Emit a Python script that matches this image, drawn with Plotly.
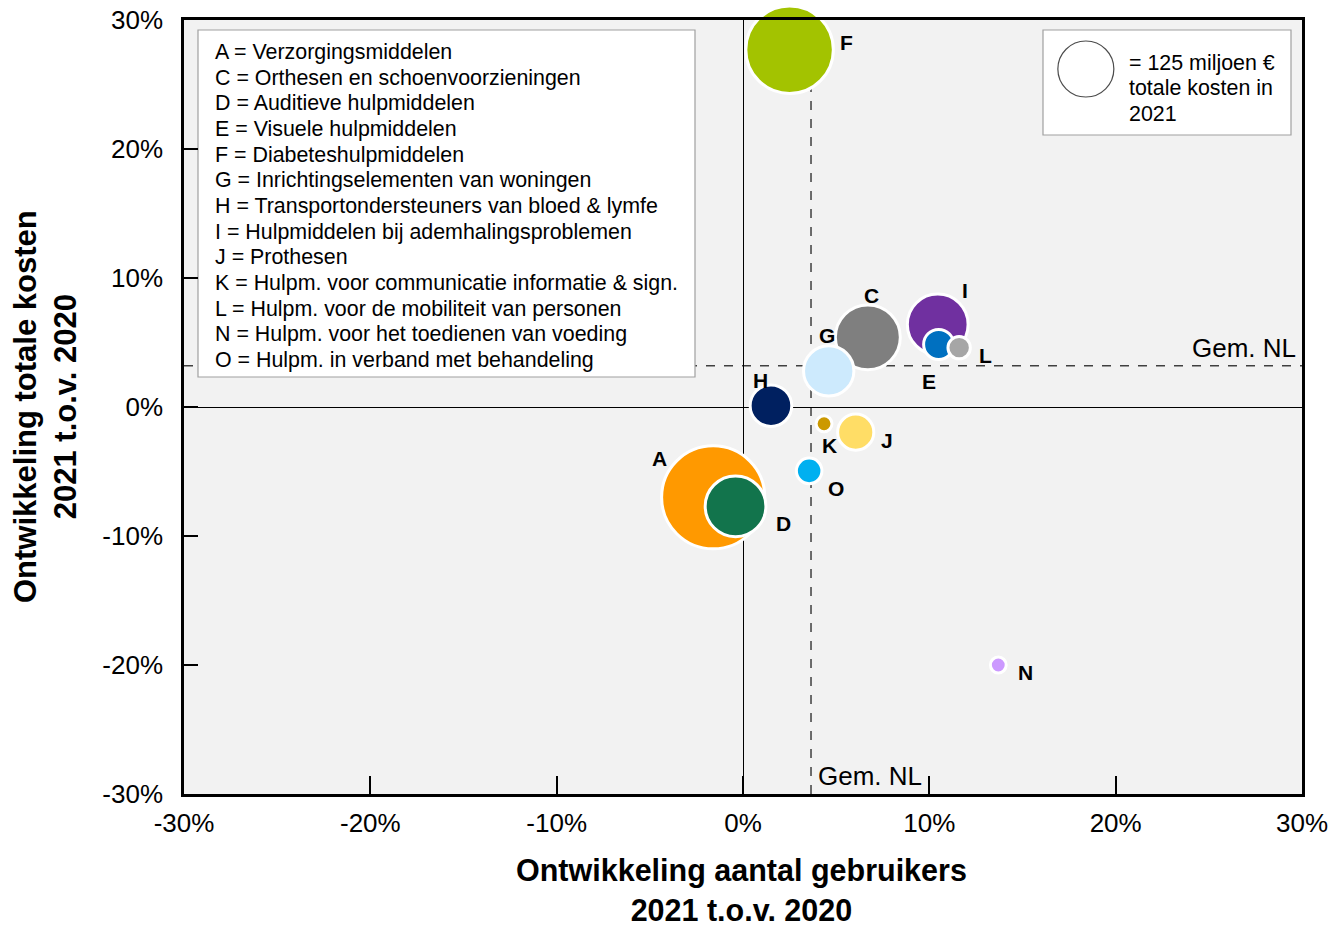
import numpy as np
import plotly.graph_objects as go

# ---- data ----
letters = ["A", "C", "D", "E", "F", "G", "H", "I", "J", "K", "L", "N", "O"]
names = [
    "Verzorgingsmiddelen",
    "Orthesen en schoenvoorzieningen",
    "Auditieve hulpmiddelen",
    "Visuele hulpmiddelen",
    "Diabeteshulpmiddelen",
    "Inrichtingselementen van woningen",
    "Transportondersteuners van bloed & lymfe",
    "Hulpmiddelen bij ademhalingsproblemen",
    "Prothesen",
    "Hulpm. voor communicatie informatie & sign.",
    "Hulpm. voor de mobiliteit van personen",
    "Hulpm. voor het toedienen van voeding",
    "Hulpm. in verband met behandeling",
]
users_change = [-1.6, 6.7, -0.4, 10.5, 2.5, 4.6, 1.5, 10.45, 6.05, 4.35, 11.6, 13.7, 3.55]   # % x
cost_change = [-7.0, 5.4, -7.7, 4.85, 27.7, 2.8, 0.1, 6.4, -1.95, -1.3, 4.6, -20.0, -4.95]   # % y
total_cost = [424, 168, 147, 36, 305, 101, 69, 147, 52, 10, 20, 10, 26]                       # mln EUR
colors = ["#ff9900", "#7f7f7f", "#12744c", "#0070c0", "#a3c300", "#cdeafd", "#002060",
          "#7030a0", "#ffdd66", "#cc9900", "#a6a6a6", "#cc99ff", "#00b0f0"]
# label offsets in px (dx right, dy up)
label_dx = [-54, 4, 48, -10, 57, -2, -10, 27, 31, 5, 26, 27, 27]
label_dy = [39, 42, -17, -37, 7, 35, 25, 34, -8, -22, -8, -7, -18]

mean_users = 3.65
mean_cost = 3.2
ref_cost = 125
ref_pos = (18.4, 26.2)

x_ticks = [-30, -20, -10, 0, 10, 20, 30]
y_ticks = [-30, -20, -10, 0, 10, 20, 30]

FONT = "Liberation Sans, Arial, sans-serif"
sizeref = 2 * 125 / 56.0 ** 2

order = np.argsort(-np.array(total_cost), kind="stable")
xs = np.array(users_change)[order]
ys = np.array(cost_change)[order]
cs = np.array(total_cost)[order]
cols = np.array(colors)[order]

fig = go.Figure()
fig.add_trace(go.Scatter(
    x=xs, y=ys, mode="markers", cliponaxis=False,
    marker=dict(size=cs, sizemode="area", sizeref=sizeref, color=list(cols),
                line=dict(color="white", width=3), opacity=1),
    hoverinfo="skip", showlegend=False))

# size reference circle
fig.add_trace(go.Scatter(
    x=[ref_pos[0]], y=[ref_pos[1]], mode="markers",
    marker=dict(size=[ref_cost], sizemode="area", sizeref=sizeref, color="white",
                line=dict(color="black", width=1.2)),
    hoverinfo="skip", showlegend=False))

L, R, T, B = 184, 1302, 20, 794
W, H = 1341, 927
pw, ph = R - L, B - T


def px(xp):
    return (xp - L) / pw


def py(yp):
    return 1 - (yp - T) / ph


shapes = [
    dict(type="line", xref="x", yref="paper", x0=mean_users, x1=mean_users, y0=0, y1=1,
         line=dict(color="#404040", width=1.5, dash="dash"), layer="below"),
    dict(type="line", xref="paper", yref="y", x0=0, x1=1, y0=mean_cost, y1=mean_cost,
         line=dict(color="#404040", width=1.5, dash="dash"), layer="below"),
    dict(type="rect", xref="paper", yref="paper", x0=px(198), x1=px(695), y0=py(30), y1=py(377),
         fillcolor="white", line=dict(color="#a0a0a0", width=1.2), layer="below"),
    dict(type="rect", xref="paper", yref="paper", x0=px(1043), x1=px(1291), y0=py(30), y1=py(135),
         fillcolor="white", line=dict(color="#a0a0a0", width=1.2), layer="below"),
]

annotations = []
for i, lt in enumerate(letters):
    annotations.append(dict(
        x=users_change[i], y=cost_change[i], xref="x", yref="y", text=f"<b>{lt}</b>",
        showarrow=False, xshift=label_dx[i], yshift=label_dy[i],
        font=dict(family=FONT, size=21, color="black")))

# legend text lines
for i, (lt, nm) in enumerate(zip(letters, names)):
    annotations.append(dict(
        x=px(213), y=py(52 + i * 25.67), xref="paper", yref="paper", text=f"{lt} = {nm}",
        showarrow=False, xanchor="left", yanchor="middle",
        font=dict(family=FONT, size=21.4, color="black")))

for i, t in enumerate(["= 125 miljoen €", "totale kosten in", "2021"]):
    annotations.append(dict(
        x=px(1127), y=py(63 + i * 25.5), xref="paper", yref="paper", text=t,
        showarrow=False, xanchor="left", yanchor="middle",
        font=dict(family=FONT, size=21.4, color="black")))

annotations += [
    dict(x=1, y=mean_cost, xref="paper", yref="y", text="Gem. NL", showarrow=False,
         xanchor="right", yanchor="bottom", xshift=-4, yshift=1,
         font=dict(family=FONT, size=26, color="black")),
    dict(x=mean_users, y=0, xref="x", yref="paper", text="Gem. NL", showarrow=False,
         xanchor="left", yanchor="bottom", xshift=5, yshift=1,
         font=dict(family=FONT, size=26, color="black")),
    dict(x=0.499, y=py(890), xref="paper", yref="paper",
         text="<b>Ontwikkeling aantal gebruikers<br>2021 t.o.v. 2020</b>", showarrow=False,
         xanchor="center", yanchor="middle", font=dict(family=FONT, size=30.5, color="black")),
    dict(x=px(45), y=0.5, xref="paper", yref="paper", textangle=-90,
         text="<b>Ontwikkeling totale kosten<br>2021 t.o.v. 2020</b>", showarrow=False,
         xanchor="center", yanchor="middle", font=dict(family=FONT, size=31, color="black")),
]

axis_common = dict(showgrid=False, zeroline=True, zerolinecolor="black", zerolinewidth=1,
                   showline=True, linecolor="black", linewidth=2.5, mirror=True,
                   ticks="inside", tickcolor="black", tickwidth=1.5, automargin=False,
                   tickfont=dict(family=FONT, size=26, color="black"))

fig.update_xaxes(range=[-30, 30], tickvals=x_ticks, ticktext=[f"{v}%" for v in x_ticks],
                 ticklen=18, ticklabelstandoff=4, **axis_common)
fig.update_yaxes(range=[-30, 30], tickvals=y_ticks, ticktext=[f"{v}%" for v in y_ticks],
                 ticklen=14, ticklabelstandoff=13, **axis_common)

fig.update_layout(
    width=W, height=H, autosize=False,
    margin=dict(l=L, r=W - R, t=T, b=H - B, pad=0),
    paper_bgcolor="white", plot_bgcolor="#f2f2f2",
    shapes=shapes, annotations=annotations,
    font=dict(family=FONT, color="black"),
    showlegend=False, hovermode=False,
)

fig.write_html(
    "out.html",
    config={"displayModeBar": False},
    post_script="document.documentElement.style.margin='0';document.body.style.margin='0';"
                "document.body.style.padding='0';document.body.style.overflow='hidden';"
                "var d=document.getElementById('{plot_id}');d.style.position='fixed';"
                "d.style.top='0px';d.style.left='0px';",
)
